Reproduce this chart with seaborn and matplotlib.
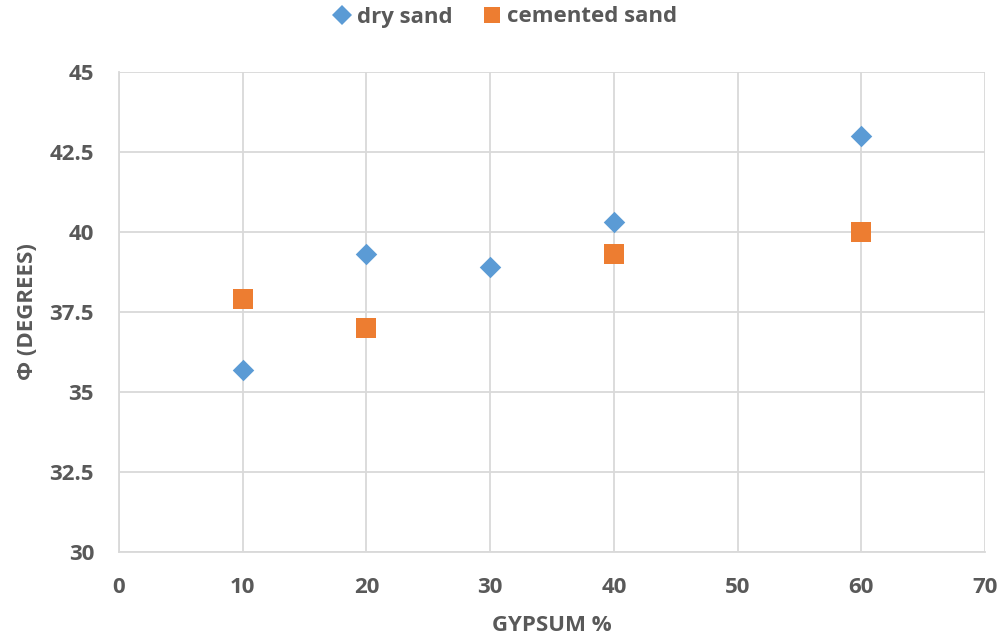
import matplotlib
matplotlib.use("Agg")
import matplotlib.pyplot as plt
import seaborn as sns
import pandas as pd
from matplotlib.lines import Line2D

gypsum_dry = [10, 20, 30, 40, 60]
phi_dry = [35.7, 39.3, 38.9, 40.3, 43.0]
gypsum_cem = [10, 20, 40, 60]
phi_cem = [37.9, 37.0, 39.3, 40.0]
series_names = ["dry sand", "cemented sand"]
x_ticks = [0, 10, 20, 30, 40, 50, 60, 70]
y_ticks = [30, 32.5, 35, 37.5, 40, 42.5, 45]

df_dry = pd.DataFrame({"x": gypsum_dry, "y": phi_dry})
df_cem = pd.DataFrame({"x": gypsum_cem, "y": phi_cem})

sns.set_style("white")
plt.rcParams['font.family'] = ['Open Sans', 'DejaVu Sans']
text_color = "#595959"
grid_color = "#D9D9D9"
c_dry = "#5B9BD5"
c_cem = "#ED7D31"
fs = 16

fig = plt.figure(figsize=(10.08, 6.42), dpi=100)
ax = fig.add_axes([119/1008, 1 - 552/642, (985-119)/1008, (552-72)/642])

sns.scatterplot(data=df_dry, x="x", y="y", color=c_dry, marker="D",
                s=120, linewidth=0, ax=ax, zorder=3)
sns.scatterplot(data=df_cem, x="x", y="y", color=c_cem, marker="s",
                s=200, linewidth=0, ax=ax, zorder=3)

ax.set_xlim(0, 70)
ax.set_ylim(30, 45)
ax.set_xticks(x_ticks)
ax.set_yticks(y_ticks)
ax.set_xticklabels([str(v) for v in x_ticks])
ax.set_yticklabels([f"{v:g}" for v in y_ticks])
ax.grid(True, color=grid_color, linewidth=1.3)
ax.set_axisbelow(True)
for side in ["top", "right"]:
    ax.spines[side].set_visible(False)
for side in ["left", "bottom"]:
    ax.spines[side].set_color(grid_color)
    ax.spines[side].set_linewidth(1.3)
ax.tick_params(axis="both", length=0, labelsize=fs, labelcolor=text_color)
ax.tick_params(axis="x", pad=18)
ax.tick_params(axis="y", pad=18)
for lbl in ax.get_xticklabels() + ax.get_yticklabels():
    lbl.set_fontweight("bold")

ax.set_xlabel("GYPSUM %", fontsize=fs, fontweight="bold", color=text_color, labelpad=12)
ax.set_ylabel("Φ (DEGREES)", fontsize=fs, fontweight="bold", color=text_color, labelpad=8)

handles = [
    Line2D([], [], linestyle="none", marker="D", color=c_dry, markersize=10, markeredgewidth=0),
    Line2D([], [], linestyle="none", marker="s", color=c_cem, markersize=11, markeredgewidth=0),
]
leg = ax.legend(handles, series_names, loc="center", bbox_to_anchor=(0.5, 1 - 17/642), bbox_transform=fig.transFigure,
                ncol=2, frameon=False, fontsize=fs, handletextpad=0.15, columnspacing=1.3,
                handlelength=1.0)
for t in leg.get_texts():
    t.set_color(text_color)
    t.set_fontweight("bold")

fig.savefig("out.png", dpi=100)
